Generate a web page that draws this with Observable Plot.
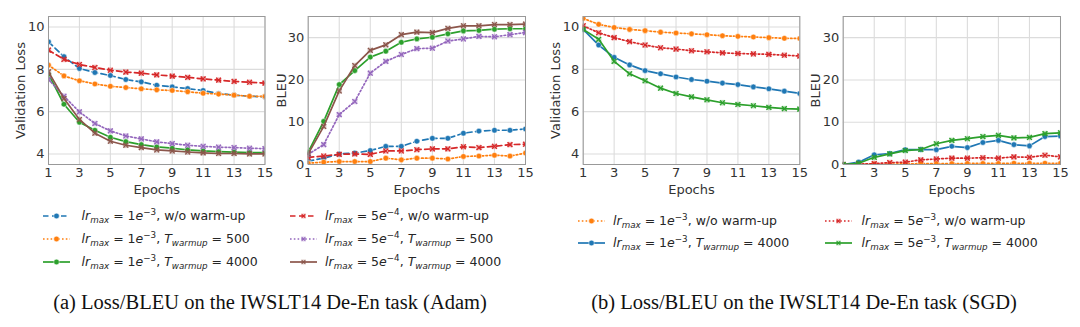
<!DOCTYPE html>
<html><head><meta charset="utf-8">
<script src="https://cdn.jsdelivr.net/npm/d3@7"></script>
<script src="https://cdn.jsdelivr.net/npm/@observablehq/plot@0.6"></script>
<style>
body{margin:0;background:#fff;}
#root{position:relative;width:1080px;height:327px;overflow:hidden;font-family:"DejaVu Sans",sans-serif;color:#262626;}
.panel{position:absolute;top:0;}
.leg{position:absolute;height:16px;display:flex;align-items:center;font-size:12.5px;white-space:nowrap;color:#262626;}
.leg .t{position:absolute;white-space:nowrap;}
.leg sub,.leg sup{font-size:70%;line-height:0;}
.leg sub{vertical-align:-0.35em;}
.leg sup{vertical-align:0.55em;}
.cap{position:absolute;font-family:"Liberation Serif","Times New Roman",serif;font-size:20.5px;color:#111;white-space:nowrap;transform:translate(-50%,-50%);}
</style></head>
<body><div id="root"></div>
<script>
// ---------- data ----------
const epochs = [1, 2, 3, 4, 5, 6, 7, 8, 9, 10, 11, 12, 13, 14, 15];
const xTicks = [1, 3, 5, 7, 9, 11, 13, 15];
const lossTicks = [4, 6, 8, 10];
const bleuTicks = [0, 10, 20, 30];

// (a) Adam — validation loss
const adamLoss_1e3_noWarm = [9.30, 8.60, 8.04, 7.85, 7.71, 7.52, 7.41, 7.25, 7.17, 7.09, 7.00, 6.86, 6.78, 6.73, 6.70];
const adamLoss_1e3_w500   = [8.20, 7.69, 7.46, 7.31, 7.20, 7.14, 7.08, 7.03, 7.00, 6.94, 6.87, 6.83, 6.78, 6.73, 6.72];
const adamLoss_1e3_w4000  = [7.77, 6.35, 5.50, 5.12, 4.79, 4.58, 4.44, 4.33, 4.27, 4.19, 4.14, 4.11, 4.09, 4.06, 4.06];
const adamLoss_5e4_noWarm = [8.91, 8.47, 8.23, 8.09, 7.96, 7.87, 7.82, 7.74, 7.68, 7.62, 7.55, 7.49, 7.43, 7.39, 7.35];
const adamLoss_5e4_w500   = [7.52, 6.73, 5.99, 5.44, 5.09, 4.85, 4.71, 4.57, 4.49, 4.41, 4.36, 4.32, 4.30, 4.27, 4.25];
const adamLoss_5e4_w4000  = [7.88, 6.62, 5.63, 4.98, 4.60, 4.41, 4.30, 4.19, 4.14, 4.09, 4.05, 4.02, 4.02, 4.00, 4.00];

// (a) Adam — BLEU
const adamBleu_1e3_noWarm = [0.8, 1.5, 2.5, 2.7, 3.3, 4.3, 4.3, 5.5, 6.2, 6.2, 7.4, 7.9, 8.1, 8.1, 8.4];
const adamBleu_1e3_w500   = [0.3, 0.55, 0.7, 0.7, 0.7, 1.5, 1.1, 1.5, 1.5, 1.3, 1.9, 2.0, 2.2, 2.0, 2.7];
const adamBleu_1e3_w4000  = [2.9, 10.2, 18.9, 22.2, 25.4, 26.8, 28.9, 29.7, 30.1, 30.9, 31.6, 31.7, 32.0, 32.1, 32.1];
const adamBleu_5e4_noWarm = [1.7, 2.0, 2.4, 2.5, 2.4, 3.2, 3.2, 3.5, 3.7, 3.7, 4.2, 4.0, 4.3, 4.7, 4.8];
const adamBleu_5e4_w500   = [2.4, 4.7, 11.8, 14.9, 21.6, 24.4, 26.0, 27.4, 27.5, 29.2, 29.7, 30.3, 30.2, 30.7, 31.2];
const adamBleu_5e4_w4000  = [2.5, 9.0, 17.4, 23.4, 27.0, 28.3, 30.7, 31.3, 31.2, 32.2, 32.8, 32.8, 33.1, 33.1, 33.2];

// (b) SGD — validation loss
const sgdLoss_1e3_noWarm = [10.41, 10.13, 9.98, 9.89, 9.83, 9.76, 9.72, 9.68, 9.64, 9.59, 9.56, 9.53, 9.50, 9.47, 9.46];
const sgdLoss_1e3_w4000  = [9.89, 9.15, 8.57, 8.21, 7.94, 7.79, 7.64, 7.52, 7.44, 7.35, 7.28, 7.17, 7.08, 6.97, 6.86];
const sgdLoss_5e3_noWarm = [10.06, 9.73, 9.50, 9.31, 9.15, 9.02, 8.96, 8.88, 8.83, 8.78, 8.75, 8.73, 8.71, 8.67, 8.63];
const sgdLoss_5e3_w4000  = [9.89, 9.42, 8.38, 7.79, 7.46, 7.11, 6.86, 6.70, 6.56, 6.42, 6.34, 6.28, 6.20, 6.14, 6.12];

// (b) SGD — BLEU
const sgdBleu_1e3_noWarm = [0.0, 0.05, 0.1, 0.1, 0.15, 0.2, 0.2, 0.2, 0.25, 0.25, 0.25, 0.3, 0.3, 0.3, 0.3];
const sgdBleu_1e3_w4000  = [0.0, 0.55, 2.3, 2.6, 3.5, 3.55, 3.5, 4.3, 4.0, 5.2, 5.7, 4.7, 4.4, 6.6, 6.7];
const sgdBleu_5e3_noWarm = [0.0, 0.1, 0.2, 0.45, 0.55, 1.1, 1.3, 1.5, 1.5, 1.6, 1.5, 1.8, 1.7, 2.2, 1.8];
const sgdBleu_5e3_w4000  = [0.0, 0.3, 1.7, 2.5, 3.3, 3.55, 4.9, 5.7, 6.1, 6.6, 6.9, 6.3, 6.4, 7.3, 7.5];

// ---------- styles ----------
const C = {blue:"#1f77b4", orange:"#ff7f0e", green:"#2ca02c", red:"#d62728", purple:"#9467bd", brown:"#8c564b"};
const DASH = "5.5,3.5", DOT = "1.6,2.2", SOLID = null;

const lrA = e => `<i>lr</i><sub><i>max</i></sub> = ${e}`;
const warm = n => `<i>T</i><sub><i>warmup</i></sub> = ${n}`;

const adamStyles = [
  {key:"1e3_noWarm", color:C.blue,   dash:DASH,  marker:"circle", label:`${lrA("1<i>e</i><sup>−3</sup>")}, w/o warm-up`},
  {key:"1e3_w500",   color:C.orange, dash:DOT,   marker:"circle", label:`${lrA("1<i>e</i><sup>−3</sup>")}, ${warm(500)}`},
  {key:"1e3_w4000",  color:C.green,  dash:SOLID, marker:"circle", label:`${lrA("1<i>e</i><sup>−3</sup>")}, ${warm(4000)}`},
  {key:"5e4_noWarm", color:C.red,    dash:DASH,  marker:"x",      label:`${lrA("5<i>e</i><sup>−4</sup>")}, w/o warm-up`},
  {key:"5e4_w500",   color:C.purple, dash:DOT,   marker:"x",      label:`${lrA("5<i>e</i><sup>−4</sup>")}, ${warm(500)}`},
  {key:"5e4_w4000",  color:C.brown,  dash:SOLID, marker:"x",      label:`${lrA("5<i>e</i><sup>−4</sup>")}, ${warm(4000)}`}
];
const sgdStyles = [
  {key:"1e3_noWarm", color:C.orange, dash:DOT,   marker:"circle", label:`${lrA("1<i>e</i><sup>−3</sup>")}, w/o warm-up`},
  {key:"1e3_w4000",  color:C.blue,   dash:SOLID, marker:"circle", label:`${lrA("1<i>e</i><sup>−3</sup>")}, ${warm(4000)}`},
  {key:"5e3_noWarm", color:C.red,    dash:DOT,   marker:"x",      label:`${lrA("5<i>e</i><sup>−3</sup>")}, w/o warm-up`},
  {key:"5e3_w4000",  color:C.green,  dash:SOLID, marker:"x",      label:`${lrA("5<i>e</i><sup>−3</sup>")}, ${warm(4000)}`}
];

const adamLoss = {"1e3_noWarm":adamLoss_1e3_noWarm,"1e3_w500":adamLoss_1e3_w500,"1e3_w4000":adamLoss_1e3_w4000,"5e4_noWarm":adamLoss_5e4_noWarm,"5e4_w500":adamLoss_5e4_w500,"5e4_w4000":adamLoss_5e4_w4000};
const adamBleu = {"1e3_noWarm":adamBleu_1e3_noWarm,"1e3_w500":adamBleu_1e3_w500,"1e3_w4000":adamBleu_1e3_w4000,"5e4_noWarm":adamBleu_5e4_noWarm,"5e4_w500":adamBleu_5e4_w500,"5e4_w4000":adamBleu_5e4_w4000};
const sgdLoss = {"1e3_noWarm":sgdLoss_1e3_noWarm,"1e3_w4000":sgdLoss_1e3_w4000,"5e3_noWarm":sgdLoss_5e3_noWarm,"5e3_w4000":sgdLoss_5e3_w4000};
const sgdBleu = {"1e3_noWarm":sgdBleu_1e3_noWarm,"1e3_w4000":sgdBleu_1e3_w4000,"5e3_noWarm":sgdBleu_5e3_noWarm,"5e3_w4000":sgdBleu_5e3_w4000};

const root = document.getElementById("root");

function panel({left, width, ml, mr, yDomain, yTicks, yLabel, styles, values, labelOffset}) {
  const marks = [
    Plot.gridX(xTicks, {stroke:"#dcdcdc", strokeOpacity:1, strokeWidth:1.1}),
    Plot.gridY(yTicks, {stroke:"#dcdcdc", strokeOpacity:1, strokeWidth:1.1})
  ];
  for (const s of styles) {
    const data = epochs.map((e, i) => ({epoch:e, value:values[s.key][i]}));
    marks.push(Plot.line(data, {x:"epoch", y:"value", stroke:s.color, strokeWidth:1.7, strokeDasharray:s.dash || undefined, clip:true}));
    if (s.marker === "circle") {
      marks.push(Plot.dot(data, {x:"epoch", y:"value", r:2.8, fill:s.color, stroke:"white", strokeWidth:0.5, clip:true}));
    } else {
      marks.push(Plot.dot(data, {x:"epoch", y:"value", symbol:"square", r:2.7, fill:s.color, fillOpacity:0.3, stroke:s.color, strokeOpacity:0.35, strokeWidth:0.6, clip:true}));
      marks.push(Plot.dot(data, {x:"epoch", y:"value", symbol:"times", r:2.3, stroke:s.color, strokeWidth:1.2, clip:true}));
    }
  }
  marks.push(Plot.frame({stroke:"#999", strokeWidth:1}));
  const svg = Plot.plot({
    width, height:195,
    marginLeft:ml, marginRight:mr, marginTop:16, marginBottom:31,
    style:{fontFamily:"DejaVu Sans", fontSize:"13px", color:"#333", background:"transparent", overflow:"visible"},
    x:{domain:[1,15], ticks:xTicks, tickFormat:d => String(d), tickSize:0, tickPadding:3.5, label:"Epochs", labelAnchor:"center", labelArrow:"none", labelOffset:29},
    y:{domain:yDomain, ticks:yTicks, tickFormat:d => String(d), tickSize:0, tickPadding:4, label:yLabel, labelAnchor:"center", labelArrow:"none", labelOffset:labelOffset},
    marks
  });
  const div = document.createElement("div");
  div.className = "panel";
  div.style.left = left + "px";
  div.style.width = width + "px";
  div.appendChild(svg);
  root.appendChild(div);
}

panel({left:0,   width:270, ml:48,   mr:5.5, yDomain:[3.5,10.5], yTicks:lossTicks, yLabel:"Validation Loss", styles:adamStyles, values:adamLoss, labelOffset:32.5});
panel({left:270, width:270, ml:37.7, mr:15,  yDomain:[0,35],     yTicks:bleuTicks, yLabel:"BLEU",            styles:adamStyles, values:adamBleu, labelOffset:31.5});
panel({left:540, width:265, ml:42.7, mr:5.7, yDomain:[3.5,10.5], yTicks:lossTicks, yLabel:"Validation Loss", styles:sgdStyles,  values:sgdLoss,  labelOffset:32.5});
panel({left:805, width:275, ml:37.7, mr:20,  yDomain:[0,35],     yTicks:bleuTicks, yLabel:"BLEU",            styles:sgdStyles,  values:sgdBleu,  labelOffset:32.5});

// ---------- legends ----------
function swatch(s) {
  const dash = s.dash ? `stroke-dasharray="${s.dash}"` : "";
  const m = s.marker === "circle"
    ? `<circle cx="13.5" cy="6" r="2.8" fill="${s.color}" stroke="white" stroke-width="0.5"/>`
    : `<rect x="11" y="3.5" width="5" height="5" fill="${s.color}" fill-opacity="0.3"/><path d="M11.8 4.3L15.2 7.7M15.2 4.3L11.8 7.7" stroke="${s.color}" stroke-width="1.2"/>`;
  return `<svg width="27" height="12" style="position:absolute;left:0;top:2px"><line x1="0" y1="6" x2="27" y2="6" stroke="${s.color}" stroke-width="1.7" ${dash}/>${m}</svg>`;
}
function legendEntry(s, swX, textX, yc) {
  const d = document.createElement("div");
  d.className = "leg";
  d.style.left = swX + "px";
  d.style.top = (yc - 8) + "px";
  d.innerHTML = swatch(s) + `<span class="t" style="left:${textX - swX}px">${s.label}</span>`;
  root.appendChild(d);
}
const aRows = [215.7, 238.5, 261.7];
legendEntry(adamStyles[0], 43, 81.5, aRows[0]);
legendEntry(adamStyles[1], 43, 81.5, aRows[1]);
legendEntry(adamStyles[2], 43, 81.5, aRows[2]);
legendEntry(adamStyles[3], 290, 325, aRows[0]);
legendEntry(adamStyles[4], 290, 325, aRows[1]);
legendEntry(adamStyles[5], 290, 325, aRows[2]);
const bRows = [220.7, 242.7];
legendEntry(sgdStyles[0], 578, 613, bRows[0]);
legendEntry(sgdStyles[1], 578, 613, bRows[1]);
legendEntry(sgdStyles[2], 825, 861.5, bRows[0]);
legendEntry(sgdStyles[3], 825, 861.5, bRows[1]);

// ---------- captions ----------
function caption(text, xc, yc) {
  const d = document.createElement("div");
  d.className = "cap";
  d.style.left = xc + "px";
  d.style.top = yc + "px";
  d.innerHTML = text;
  root.appendChild(d);
}
caption("(a) Loss/BLEU on the IWSLT14 De-En task (Adam)", 270, 302);
caption("(b) Loss/BLEU on the IWSLT14 De-En task (SGD)", 804, 302);
</script>
</body></html>
